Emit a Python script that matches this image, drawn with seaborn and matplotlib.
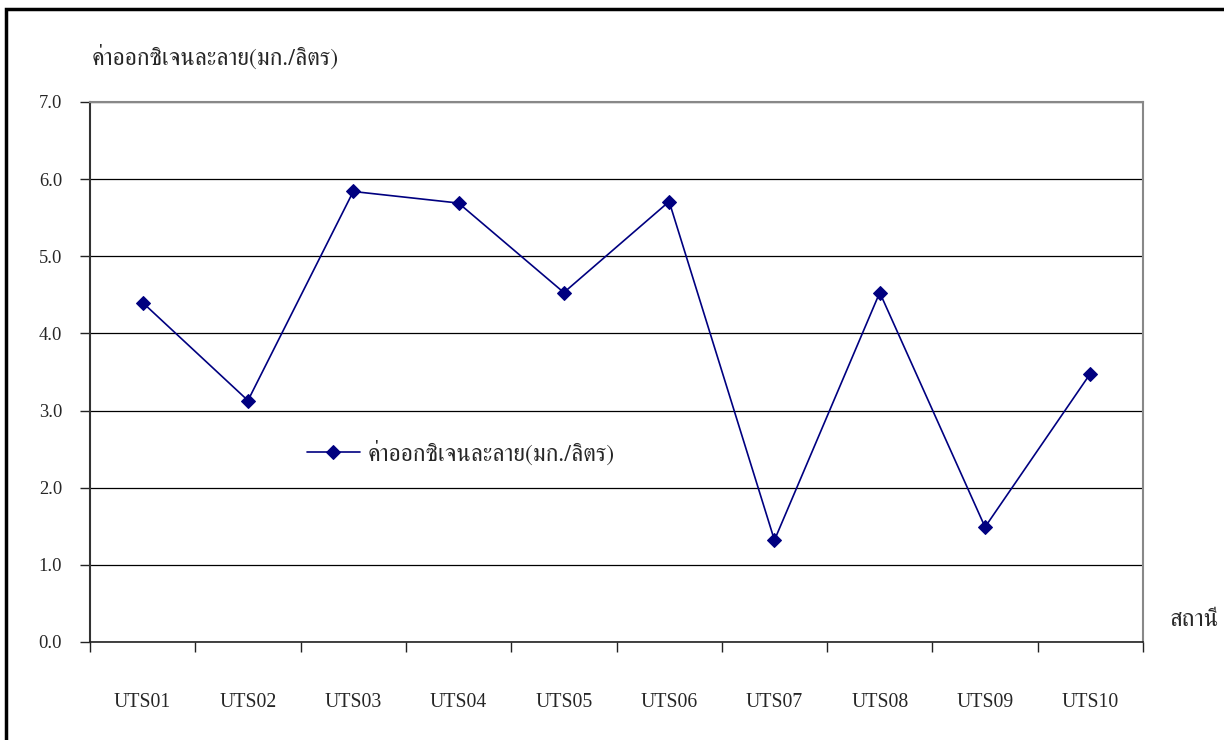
import matplotlib
matplotlib.use("Agg")
import matplotlib.pyplot as plt
from matplotlib import font_manager
from matplotlib.ft2font import FT2Font
from matplotlib.patches import Rectangle
import seaborn as sns
import pandas as pd
import numpy as np

# Station names and dissolved-oxygen readings (mg/L)
stations = ["UTS01", "UTS02", "UTS03", "UTS04", "UTS05",
            "UTS06", "UTS07", "UTS08", "UTS09", "UTS10"]
do_values = [4.40, 3.13, 5.84, 5.69, 4.53, 5.71, 1.32, 4.53, 1.49, 3.48]
y_ticks = [0.0, 1.0, 2.0, 3.0, 4.0, 5.0, 6.0, 7.0]

series_name = "ค่าออกซิเจนละลาย(มก./ลิตร)"
y_title = "ค่าออกซิเจนละลาย(มก./ลิตร)"
x_title = "สถานี"

df = pd.DataFrame({"station": stations, "value": do_values})
df["pos"] = np.arange(len(stations))

sns.set_theme(style="white")

# Find an installed font that carries Thai glyphs
def thai_font():
    preferred = []
    others = []
    for f in font_manager.fontManager.ttflist:
        try:
            cmap = FT2Font(f.fname).get_charmap()
        except Exception:
            continue
        if ord("ค") in cmap and ord("ซ") in cmap:
            if "Serif" in f.name:
                preferred.append(f.name)
            else:
                others.append(f.name)
    for lst in (preferred, others):
        if lst:
            return lst[0]
    return None

tf = thai_font()
families = ["Liberation Serif"] + ([tf] if tf else []) + ["DejaVu Sans"]
plt.rcParams["font.family"] = families
thai_family = ([tf] if tf else []) + ["DejaVu Sans"]

fig = plt.figure(figsize=(12.24, 7.4), dpi=100)
ax = fig.add_axes([90 / 1224, 1 - 642 / 740, (1143 - 90) / 1224, (642 - 102) / 740])

sns.lineplot(data=df, x="pos", y="value", ax=ax, color="#000080",
             marker="D", markersize=7.5, markeredgecolor="#000080",
             linewidth=1.2, label=series_name, legend=False)

ax.set_xlim(-0.5, len(stations) - 0.5)
ax.set_ylim(0, 7)
ax.set_yticks(y_ticks)
ax.set_yticklabels([f"{v:.1f}" for v in y_ticks], fontsize=13.3,
                   family="Liberation Serif")
ax.yaxis.grid(True, color="#000000", linewidth=0.9)
ax.xaxis.grid(False)

# Category boundary ticks below the axis, labels centred on each station
ax.set_xticks(np.arange(len(stations) + 1) - 0.5)
ax.set_xticklabels([])
ax.set_xticks(np.arange(len(stations)), minor=True)
ax.set_xticklabels(stations, minor=True, fontsize=14.2, family="Liberation Serif")
ax.tick_params(axis="x", which="major", direction="out", length=7, width=1,
               color="#222222", bottom=True)
ax.tick_params(axis="x", which="minor", length=0, pad=37, bottom=True)
ax.tick_params(axis="y", direction="out", length=7, width=1, color="#222222",
               left=True, pad=13)
ax.set_xlabel("")
ax.set_ylabel("")

for side in ["top", "right"]:
    ax.spines[side].set_color("#888888")
    ax.spines[side].set_linewidth(1.5)
ax.spines["left"].set_color("#333333")
ax.spines["left"].set_linewidth(1.5)
ax.spines["bottom"].set_color("#222222")
ax.spines["bottom"].set_linewidth(1.2)

ax.text(0.002, 1.083, y_title, transform=ax.transAxes, fontsize=17,
        family=thai_family, ha="left", va="center")
ax.text(1.025, 0.04, x_title, transform=ax.transAxes, fontsize=17.5,
        family=thai_family, ha="left", va="center")

leg = ax.legend(loc="center left", bbox_to_anchor=(0.206, 0.35), frameon=False,
                borderaxespad=0, borderpad=0,
                handlelength=2.25, prop={"family": thai_family, "size": 17},
                handletextpad=0.3)

# Outer frame around the chart
fig.patches.append(Rectangle((6 / 1224, -0.01), 1.1, 1 - 9 / 740 + 0.01,
                             transform=fig.transFigure, fill=False,
                             edgecolor="black", linewidth=2.5, zorder=0))

fig.savefig("out.png", dpi=100)
